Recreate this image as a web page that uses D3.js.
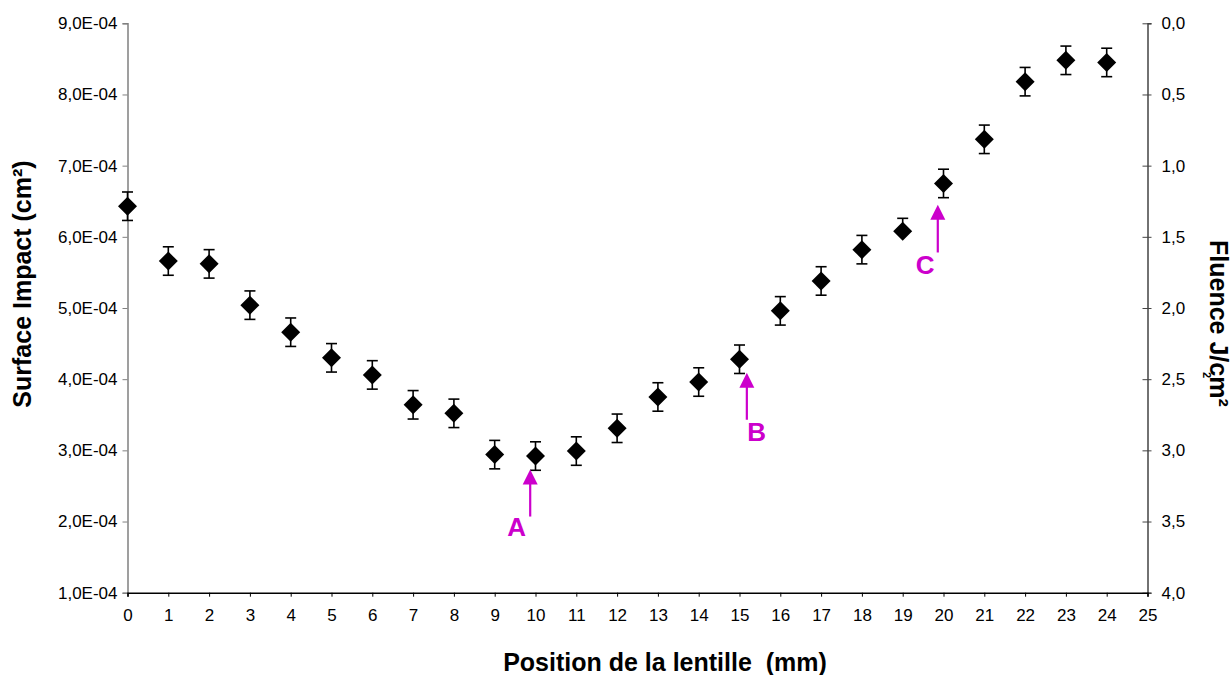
<html>
    <head>
        <style>
        body {
            margin: 0;
            background: white;
        }

        svg {
            font-family: 'Liberation Sans', Arial, sans-serif;
        }

        .tick text {
            font-size: 17px;
            fill: #000;
        }

        .axis-title {
            font-size: 25px;
            font-weight: bold;
            white-space: pre;
        }

        .note {
            font-size: 26px;
            font-weight: bold;
            fill: #cc00cc;
        }
        </style>
    </head>
    <body>
        <svg width="1232" height="675"></svg>

        <script src="https://d3js.org/d3.v7.min.js"></script>

        <script>
            // lens position (mm)
            let positions = [0, 1, 2, 3, 4, 5, 6, 7, 8, 9, 10, 11, 12, 13, 14, 15, 16, 17, 18, 19, 20, 21, 22, 23, 24]

            // impact surface, in units of 1E-04 cm²
            let surface = [6.43, 5.66, 5.62, 5.04, 4.66, 4.30, 4.06, 3.64, 3.52, 2.94, 2.92, 2.99, 3.31, 3.75, 3.96, 4.28, 4.96, 5.38, 5.82, 6.08, 6.75, 7.37, 8.18, 8.48, 8.45]
            let errPlus = [0.20, 0.20, 0.20, 0.20, 0.20, 0.20, 0.20, 0.20, 0.20, 0.20, 0.20, 0.20, 0.20, 0.20, 0.20, 0.20, 0.20, 0.20, 0.20, 0.18, 0.20, 0.20, 0.20, 0.20, 0.20]
            let errMinus = [0.20, 0.20, 0.20, 0.20, 0.20, 0.20, 0.20, 0.20, 0.20, 0.20, 0.20, 0.20, 0.20, 0.20, 0.20, 0.20, 0.20, 0.20, 0.20, 0, 0.20, 0.20, 0.20, 0.20, 0.20]

            let xTicks = d3.range(0, 26)
            let leftTicks = [1, 2, 3, 4, 5, 6, 7, 8, 9]
            let rightTicks = [0, 0.5, 1, 1.5, 2, 2.5, 3, 3.5, 4]

            // annotation arrows (x in mm, y in 1E-04 cm²)
            let noteNames = ["A", "B", "C"]
            let noteX = [9.87, 15.18, 19.86]
            let noteTip = [2.73, 4.09, 6.45]
            let noteTail = [2.07, 3.43, 5.78]
            let noteLabelX = [9.54, 15.42, 19.55]
            let noteLabelY = [1.79, 3.13, 5.48]

            let svg = d3.select("svg")

            let plotLeft = 127.5, plotRight = 1147.5, plotTop = 23.3, plotBottom = 592.7

            let x = d3.scaleLinear().domain([0, 25]).range([plotLeft, plotRight])
            let y = d3.scaleLinear().domain([1, 9]).range([plotBottom, plotTop])
            let yRight = d3.scaleLinear().domain([0, 4]).range([plotTop, plotBottom])

            let fmtE = d => d.toFixed(1).replace(".", ",") + "E-04"
            let fmtR = d => d.toFixed(1).replace(".", ",")

            // left axis
            let yAxis = svg.append("g")
                .attr("transform", "translate(" + plotLeft + ",0)")
                .call(d3.axisLeft(y).tickValues(leftTicks).tickFormat(fmtE).tickSizeOuter(0).tickSize(5).tickPadding(5))
            yAxis.select(".domain").attr("stroke", "#808080").attr("stroke-width", 1.5)
            yAxis.selectAll(".tick line").attr("stroke", "#808080")

            // right axis, ticks crossing the line
            let yAxisR = svg.append("g")
                .attr("transform", "translate(" + plotRight + ",0)")
                .call(d3.axisRight(yRight).tickValues(rightTicks).tickFormat(fmtR).tickSizeOuter(0).tickSize(4).tickPadding(10))
            yAxisR.select(".domain").attr("stroke", "#444").attr("stroke-width", 1.5)
            yAxisR.selectAll(".tick line").attr("x1", -5).attr("x2", 4).attr("stroke", "#444")

            // x axis
            let xAxis = svg.append("g")
                .attr("transform", "translate(0," + plotBottom + ")")
                .call(d3.axisBottom(x).tickValues(xTicks).tickFormat(d3.format("d")).tickSizeOuter(0).tickSize(4).tickPadding(12))
            xAxis.select(".domain").attr("stroke", "#000").attr("stroke-width", 1.5)
            xAxis.selectAll(".tick line").attr("stroke", "#000")

            svg.selectAll(".tick text").attr("fill", "#000")

            // axis titles
            svg.append("text")
                .attr("class", "axis-title")
                .attr("x", 665)
                .attr("y", 671)
                .attr("text-anchor", "middle")
                .text("Position de la lentille  (mm)")

            svg.append("text")
                .attr("class", "axis-title")
                .attr("transform", "translate(31,284) rotate(-90)")
                .attr("text-anchor", "middle")
                .text("Surface Impact (cm²)")

            svg.append("text")
                .attr("class", "axis-title")
                .attr("transform", "translate(1210,240) rotate(90)")
                .attr("text-anchor", "start")
                .text("Fluence J/cm²")

            // stray superscript seen next to the right title
            svg.append("text")
                .attr("transform", "translate(1203,372) rotate(90)")
                .style("font-size", "11px")
                .style("font-weight", "bold")
                .text("2")

            // error bars
            let bars = svg.append("g")
                .selectAll("g")
                .data(positions)
                .enter().append("g")
                .attr("stroke", "#000")
                .attr("stroke-width", 1.6)

            bars.append("line")
                .attr("x1", (d, i) => x(d))
                .attr("x2", (d, i) => x(d))
                .attr("y1", (d, i) => y(surface[i] + errPlus[i]))
                .attr("y2", (d, i) => y(surface[i] - errMinus[i]))

            bars.append("line")
                .attr("x1", (d, i) => x(d) - 5.5)
                .attr("x2", (d, i) => x(d) + 5.5)
                .attr("y1", (d, i) => y(surface[i] + errPlus[i]))
                .attr("y2", (d, i) => y(surface[i] + errPlus[i]))

            bars.filter((d, i) => errMinus[i] > 0)
                .append("line")
                .attr("x1", d => x(d) - 5.5)
                .attr("x2", d => x(d) + 5.5)
                .attr("y1", d => y(surface[positions.indexOf(d)] - errMinus[positions.indexOf(d)]))
                .attr("y2", d => y(surface[positions.indexOf(d)] - errMinus[positions.indexOf(d)]))

            // diamond markers
            let diamond = d3.symbol().type(d3.symbolDiamond2).size(230)

            svg.append("g")
                .selectAll("path")
                .data(positions)
                .enter().append("path")
                .attr("d", diamond)
                .attr("transform", (d, i) => "translate(" + x(d) + "," + y(surface[i]) + ")")
                .style("fill", "#000")

            // magenta arrows and letters
            let notes = svg.append("g")
                .selectAll("g")
                .data(noteNames)
                .enter().append("g")

            notes.append("line")
                .attr("x1", (d, i) => x(noteX[i]))
                .attr("x2", (d, i) => x(noteX[i]))
                .attr("y1", (d, i) => y(noteTail[i]))
                .attr("y2", (d, i) => y(noteTip[i]) + 10)
                .style("stroke", "#cc00cc")
                .style("stroke-width", 2.2)

            notes.append("path")
                .attr("d", (d, i) => {
                    let px = x(noteX[i]), py = y(noteTip[i])
                    return "M" + px + "," + py + "L" + (px + 7.5) + "," + (py + 15) + "L" + (px - 7.5) + "," + (py + 15) + "Z"
                })
                .style("fill", "#cc00cc")

            notes.append("text")
                .attr("class", "note")
                .attr("x", (d, i) => x(noteLabelX[i]))
                .attr("y", (d, i) => y(noteLabelY[i]))
                .attr("text-anchor", "middle")
                .text(d => d)
        </script>
    </body>
</html>
